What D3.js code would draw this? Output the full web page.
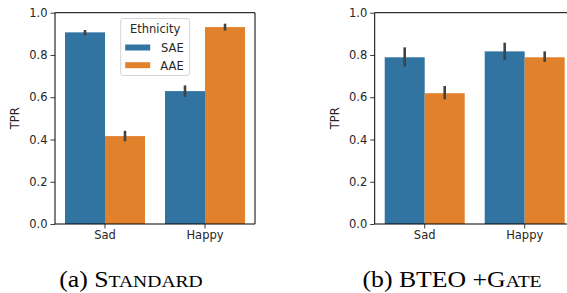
<!DOCTYPE html>
<meta charset="utf-8">
<style>
body { margin: 0; background: #fff; }
text { font-family: 'DejaVu Sans', sans-serif; fill: #262626; }
text.caption { font-family: 'Liberation Serif', 'Times New Roman', serif; fill: #000; }
</style>
<body>
<svg width="567" height="293"></svg>
<script src="https://cdn.jsdelivr.net/npm/d3@7"></script>
<script>
// categories
var emotions = ["Sad", "Happy"];
var ethnicities = ["SAE", "AAE"];
var yTicks = [0, 0.2, 0.4, 0.6, 0.8, 1.0];

// (a) Standard model
var stdSAE = [0.907, 0.629],
    stdSAElo = [0.893, 0.602],
    stdSAEhi = [0.918, 0.656];
var stdAAE = [0.416, 0.932],
    stdAAElo = [0.391, 0.915],
    stdAAEhi = [0.441, 0.948];

// (b) BTEO +Gate
var gateSAE = [0.789, 0.817],
    gateSAElo = [0.745, 0.776],
    gateSAEhi = [0.836, 0.858];
var gateAAE = [0.619, 0.789],
    gateAAElo = [0.590, 0.767],
    gateAAEhi = [0.653, 0.817];

var colors = { SAE: "#3274a1", AAE: "#e1812c" };

var svg = d3.select("svg");

function rows(sae, saeLo, saeHi, aae, aaeLo, aaeHi) {
  var out = [];
  emotions.forEach(function(e, i) {
    out.push({ emotion: e, eth: "SAE", v: sae[i], lo: saeLo[i], hi: saeHi[i] });
    out.push({ emotion: e, eth: "AAE", v: aae[i], lo: aaeLo[i], hi: aaeHi[i] });
  });
  return out;
}

function panel(left, data, opts) {
  var x0 = left, x1 = left + 200, yTop = 12.7, yBot = 224;

  var x = d3.scaleBand().domain(emotions).range([x0, x1])
      .paddingInner(0.2).paddingOuter(0.1);
  var xh = d3.scaleBand().domain(ethnicities).range([0, x.bandwidth()]);
  var y = d3.scaleLinear().domain([0, 1]).range([yBot, yTop]);

  var g = svg.append("g");

  g.selectAll("rect.bar")
    .data(data)
    .enter().append("rect")
      .attr("class", "bar")
      .attr("x", function(d) { return x(d.emotion) + xh(d.eth); })
      .attr("width", xh.bandwidth())
      .attr("y", function(d) { return y(d.v); })
      .attr("height", function(d) { return y(0) - y(d.v); })
      .attr("fill", function(d) { return colors[d.eth]; });

  g.selectAll("line.err")
    .data(data)
    .enter().append("line")
      .attr("class", "err")
      .attr("x1", function(d) { return x(d.emotion) + xh(d.eth) + xh.bandwidth() / 2; })
      .attr("x2", function(d) { return x(d.emotion) + xh(d.eth) + xh.bandwidth() / 2; })
      .attr("y1", function(d) { return y(d.lo); })
      .attr("y2", function(d) { return y(d.hi); })
      .attr("stroke", "#424242")
      .attr("stroke-width", 2.6);

  // y axis
  var ya = g.append("g")
      .attr("transform", "translate(" + x0 + ",0)")
      .call(d3.axisLeft(y).tickValues(yTicks).tickFormat(d3.format(".1f")).tickSize(4.5).tickPadding(3));
  ya.select(".domain").remove();
  ya.selectAll("text").style("font-size", "11.5px").attr("fill", "#262626");
  ya.selectAll("line").attr("stroke", "#262626").attr("stroke-width", 0.9);

  // x axis
  var xa = g.append("g")
      .attr("transform", "translate(0," + yBot + ")")
      .call(d3.axisBottom(x).tickSize(4.5).tickPadding(2.5));
  xa.select(".domain").remove();
  xa.selectAll("text").style("font-size", "11.5px").attr("fill", "#262626");
  xa.selectAll("line").attr("stroke", "#262626").attr("stroke-width", 0.9);

  // frame
  var sp = g.append("g").attr("stroke", "#000").attr("stroke-width", 1).attr("fill", "none");
  sp.append("line").attr("x1", x0).attr("x2", x0).attr("y1", yTop).attr("y2", yBot);
  sp.append("line").attr("x1", x0).attr("x2", x1).attr("y1", yBot).attr("y2", yBot);
  sp.append("line").attr("x1", x0).attr("x2", x1).attr("y1", yTop).attr("y2", yTop);
  sp.append("line").attr("x1", x1).attr("x2", x1).attr("y1", yTop).attr("y2", yBot);

  // y label
  g.append("text")
      .attr("transform", "translate(" + (x0 - 36) + "," + ((yTop + yBot) / 2) + ") rotate(-90)")
      .attr("text-anchor", "middle")
      .style("font-size", "11.5px")
      .text("TPR");

  if (opts.legend) {
    var lg = g.append("g").attr("transform", "translate(" + (x0 + 65.7) + ",18.5)");
    lg.append("rect")
        .attr("width", 69).attr("height", 57).attr("rx", 2.5)
        .attr("fill", "#fff").attr("fill-opacity", 0.8)
        .attr("stroke", "#d0d0d0").attr("stroke-width", 0.9);
    lg.append("text")
        .attr("x", 34.5).attr("y", 14)
        .attr("text-anchor", "middle")
        .style("font-size", "11.5px")
        .text("Ethnicity");
    ethnicities.forEach(function(e, i) {
      lg.append("rect")
          .attr("x", 4.5).attr("y", 26 + i * 17.7)
          .attr("width", 25).attr("height", 6)
          .attr("fill", colors[e]);
      lg.append("text")
          .attr("x", 63).attr("y", 33.5 + i * 17.7)
          .attr("text-anchor", "end")
          .style("font-size", "11.5px")
          .text(e);
    });
  }

  // caption (small caps done by hand), stretched a little sideways
  var cap = svg.append("text")
      .attr("class", "caption")
      .attr("transform", "translate(" + opts.capX + ",287) scale(1.12,1)")
      .attr("text-anchor", "middle");
  opts.caption.forEach(function(p) {
    cap.append("tspan").style("font-size", p[1] + "px").text(p[0]);
  });
}

panel(55, rows(stdSAE, stdSAElo, stdSAEhi, stdAAE, stdAAElo, stdAAEhi),
  { legend: true, capX: 131, caption: [["(a) S", 23], ["TANDARD", 17.5]] });
panel(374.7, rows(gateSAE, gateSAElo, gateSAEhi, gateAAE, gateAAElo, gateAAEhi),
  { legend: false, capX: 452, caption: [["(b) BTEO +G", 23], ["ATE", 17.5]] });
</script>
</body>
